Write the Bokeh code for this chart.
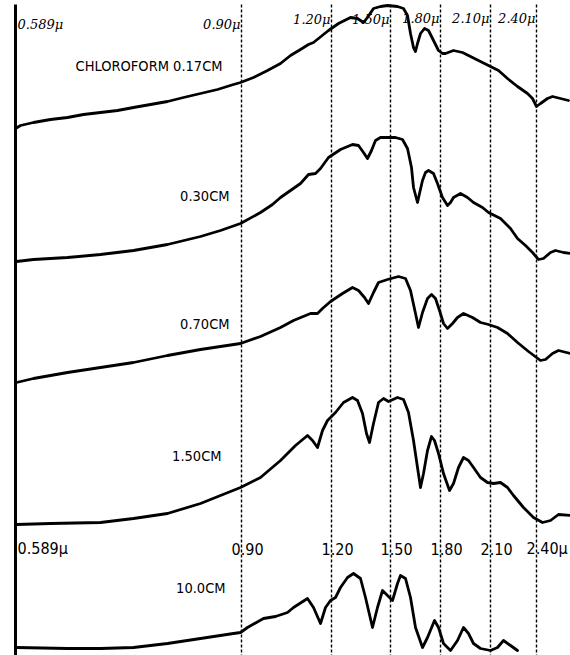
from bokeh.plotting import figure
from bokeh.models import Range1d
from bokeh.core.properties import value
from bokeh.embed import file_html
from bokeh.resources import INLINE

# Spectrometer scale positions (horizontal) and pen trace positions (vertical, measured downward)
# Wavelength marks (micron) and their positions on the spectrometer scale
wavelengths = ["0.90", "1.20", "1.50", "1.80", "2.10", "2.40"]
wl_scale = [241, 331, 390, 440, 490, 536]
origin_scale = 15  # 0.589 micron (sodium D line)

# Thickness of chloroform layer for each trace
thickness = ["CHLOROFORM 0.17CM", "0.30CM", "0.70CM", "1.50CM", "10.0CM"]

c017_x = [15, 20, 33, 50, 67, 83, 100, 117, 133, 150, 167, 183, 200, 217, 233, 240, 253, 267, 280, 290, 300, 308, 313, 318, 328, 338, 350, 357, 363, 367, 373, 380, 387, 397, 403, 407, 410, 413, 415, 417, 420, 424, 428, 433, 438, 442, 445, 453, 462, 472, 480, 488, 498, 507, 517, 527, 532, 536, 540, 547, 552, 560, 568]
c017_y = [128, 125, 122, 119, 117, 114, 112, 110, 107, 104, 101, 97, 93, 89, 84, 82, 77, 70, 63, 55, 49, 44, 42, 38, 30, 23, 17, 18, 22, 17, 8, 6, 5, 6, 8, 15, 33, 47, 51, 43, 33, 28, 30, 40, 50, 53, 53, 50, 52, 57, 61, 65, 70, 78, 86, 93, 98, 106, 103, 98, 96, 98, 100]

c030_x = [16, 33, 67, 100, 133, 167, 200, 220, 240, 260, 272, 280, 290, 300, 308, 315, 320, 328, 340, 352, 358, 363, 367, 371, 375, 380, 395, 402, 407, 411, 413, 417, 419, 422, 425, 428, 433, 437, 442, 447, 450, 453, 460, 467, 473, 482, 488, 500, 510, 517, 525, 532, 538, 543, 550, 555, 563, 570]
c030_y = [261, 259, 257, 254, 250, 244, 236, 230, 223, 212, 204, 197, 190, 183, 174, 173, 168, 157, 149, 144, 145, 152, 158, 150, 140, 137, 137, 139, 148, 167, 187, 202, 193, 180, 172, 170, 173, 183, 197, 205, 202, 197, 193, 197, 202, 207, 212, 218, 228, 238, 245, 252, 259, 258, 252, 250, 252, 253]

c070_x = [16, 33, 67, 100, 133, 167, 200, 240, 260, 280, 293, 310, 317, 322, 330, 342, 352, 358, 364, 368, 373, 378, 387, 398, 405, 410, 415, 418, 422, 427, 431, 435, 439, 443, 447, 452, 457, 463, 472, 480, 488, 497, 507, 517, 528, 540, 545, 552, 558, 570]
c070_y = [382, 378, 372, 367, 362, 355, 349, 343, 336, 327, 320, 313, 313, 308, 301, 293, 287, 290, 297, 303, 292, 282, 279, 276, 278, 290, 313, 327, 312, 298, 294, 298, 310, 323, 328, 323, 317, 313, 317, 322, 324, 327, 333, 342, 351, 360, 359, 353, 350, 353]

c150_x = [16, 50, 100, 133, 167, 200, 240, 260, 280, 287, 295, 307, 312, 317, 322, 327, 335, 343, 352, 357, 362, 366, 369, 373, 378, 383, 388, 397, 403, 408, 413, 417, 420, 423, 427, 431, 434, 438, 443, 449, 453, 458, 463, 468, 473, 480, 487, 493, 500, 507, 513, 523, 533, 542, 550, 558, 570]
c150_y = [524, 523, 522, 518, 513, 503, 487, 477, 460, 453, 445, 435, 440, 447, 430, 420, 412, 402, 397, 400, 413, 433, 442, 423, 402, 398, 401, 397, 399, 412, 440, 467, 487, 473, 450, 436, 440, 453, 473, 490, 483, 467, 457, 460, 467, 477, 482, 483, 482, 487, 495, 507, 517, 522, 520, 514, 515]

c100_x = [16, 67, 100, 133, 167, 200, 233, 240, 247, 263, 275, 287, 293, 307, 313, 320, 325, 330, 335, 340, 347, 353, 360, 365, 372, 377, 382, 387, 392, 397, 400, 405, 410, 415, 422, 427, 434, 438, 443, 450, 457, 463, 468, 473, 480, 490, 497, 503, 510, 517]
c100_y = [647, 648, 648, 647, 643, 638, 633, 632, 627, 618, 616, 612, 607, 598, 607, 623, 607, 600, 597, 587, 577, 573, 578, 597, 627, 607, 590, 595, 600, 583, 575, 578, 597, 627, 647, 637, 620, 627, 643, 650, 640, 627, 633, 643, 648, 650, 647, 640, 645, 650]

curves = [(c017_x, c017_y), (c030_x, c030_y), (c070_x, c070_y), (c150_x, c150_y), (c100_x, c100_y)]

# Label placement (scale units)
thick_label_x = [222, 229, 229, 221, 225]
thick_label_y = [65, 195, 323, 455, 587]

W, H = 570, 655
p = figure(width=W, height=H, x_range=Range1d(0, W), y_range=Range1d(H, 0),
           output_backend="svg", toolbar_location=None, min_border=0)
p.axis.visible = False
p.grid.visible = False
p.outline_line_color = None
p.background_fill_color = "white"
p.border_fill_color = "white"

# dashed wavelength lines
p.segment(x0=wl_scale, y0=[4] * len(wl_scale), x1=wl_scale, y1=[H] * len(wl_scale),
          line_color="black", line_width=1.4, line_dash="3 2")
# left axis (0.589 micron)
p.segment(x0=[origin_scale], y0=[4], x1=[origin_scale], y1=[H], line_color="black", line_width=3)

for cx, cy in curves:
    p.line(cx, cy, line_color="black", line_width=2.8, line_join="round", line_cap="round")

hand = value("DejaVu Serif")
narrow = value("Liberation Sans Narrow, DejaVu Sans Condensed, sans-serif")

# top (handwritten) wavelength labels
top_txt = ["0.589\u03bc"] + [w + "\u03bc" for w in wavelengths]
top_x = [origin_scale + 2] + [x - 1 for x in wl_scale]
top_y = [24, 24, 19, 19, 18, 18, 18]
top_align = ["left"] + ["right"] * len(wavelengths)
p.text(x=top_x, y=top_y, text=top_txt, text_align=top_align, text_baseline="middle",
       text_font=hand, text_font_style="italic", text_font_size="13px", text_color="black")

# middle row labels
mid_txt = ["0.589\u03bc"] + wavelengths[:-1] + [wavelengths[-1] + "\u03bc"]
mid_x = [origin_scale + 2] + [x - 10 for x in wl_scale]
p.text(x=mid_x, y=[548] * len(mid_x), text=mid_txt, text_align="left", text_baseline="middle",
       text_font=narrow, text_font_size="16px", text_color="black")

# thickness labels
p.text(x=thick_label_x, y=thick_label_y, text=thickness, text_align="right", text_baseline="middle",
       text_font=narrow, text_font_size="14.5px", text_color="black")

open("out.html", "w").write(file_html(p, INLINE))
